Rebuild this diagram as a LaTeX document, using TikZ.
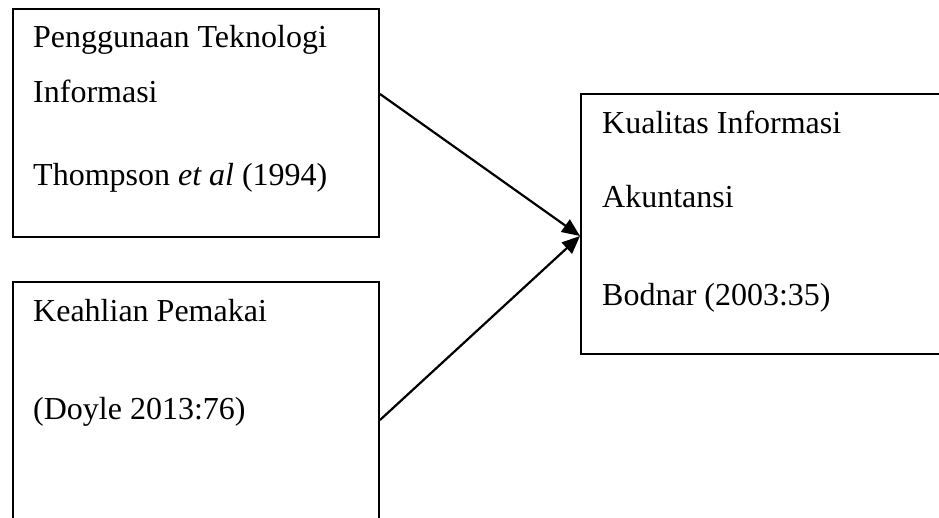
\documentclass[tikz,border=0pt]{standalone}
\usepackage{fontspec}
\setmainfont{Liberation Serif}
\usepackage{xcolor}
\usepackage{tikz}
\usetikzlibrary{arrows.meta}

\tikzset{
	kotak/.style={draw, line width=2pt, anchor=north west, inner sep=0pt},
	teks/.style={anchor=base west, inner sep=0pt, font=\fontsize{32}{40}\selectfont},
	panah/.style={line width=2.2pt, -{Triangle[length=18pt,width=15pt]}}
}

\begin{document}
\begin{tikzpicture}[x=1pt, y=-1pt]
			\path[use as bounding box, clip] (0,0) rectangle (939,517);
			\node[kotak, minimum width=366pt, minimum height=228pt] (teknologi) at (12,8) {};
			\node[kotak, minimum width=366pt, minimum height=270pt] (keahlian) at (12,281) {};
			\node[kotak, minimum width=380pt, minimum height=260pt] (kualitas) at (580,93) {};
			\node[teks] (t1) at (33,47) {Penggunaan Teknologi};
			\node[teks] (t2) at (33,102) {Informasi};
			\node[teks] (t3) at (33,185) {Thompson \textit{et al} (1994)};
			\node[teks] (k1) at (33,321) {Keahlian Pemakai};
			\node[teks] (k2) at (33,419) {(Doyle 2013:76)};
			\node[teks] (q1) at (602,133) {Kualitas Informasi};
			\node[teks] (q2) at (602,207) {Akuntansi};
			\node[teks] (q3) at (602,305) {Bodnar (2003:35)};
			\coordinate (dari1) at (teknologi.north east |- 0,94);
			\coordinate (dari2) at (keahlian.north east |- 0,420);
			\coordinate (ke) at (kualitas.north west |- 0,236);
			\draw[panah] (dari1) -- (ke);
			\draw[panah] (dari2) -- (ke);
		\end{tikzpicture}
\end{document}
